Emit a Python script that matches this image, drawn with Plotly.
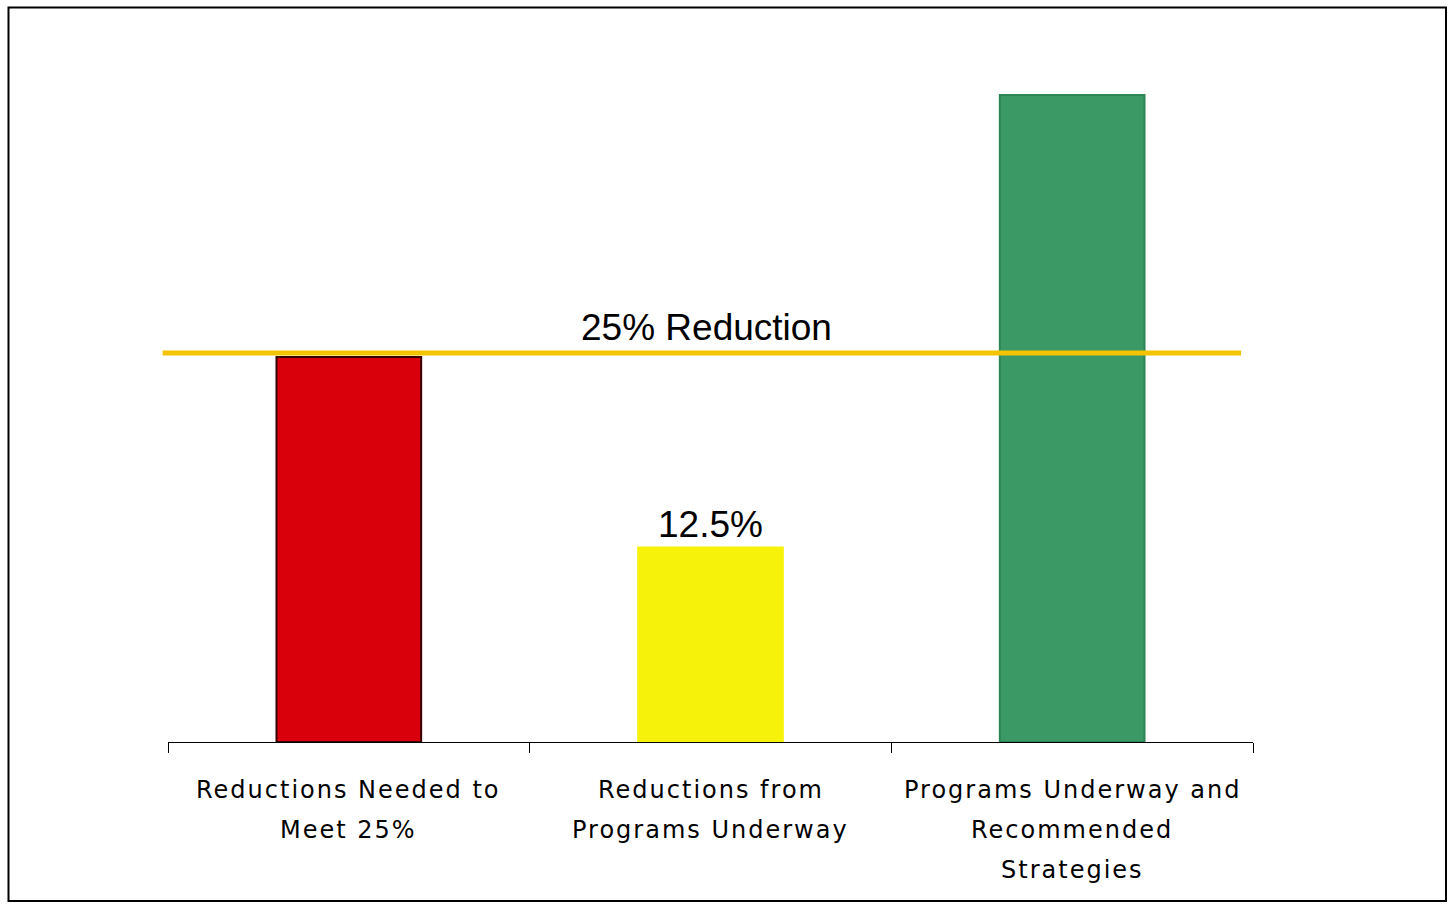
import plotly.graph_objects as go

categories = ["Reductions Needed to Meet 25%", "Reductions from Programs Underway",
              "Programs Underway and Recommended Strategies"]
label_lines = [["Reductions Needed to", "Meet 25%"],
               ["Reductions from", "Programs Underway"],
               ["Programs Underway and", "Recommended", "Strategies"]]
values = [24.75, 12.5, 41.6]
bar_text = ["", "12.5%", ""]
target_value = 25.0
target_label = "25% Reduction"
colors = ["#D9000C", "#F7F20A", "#3A9964"]
outline = ["#3A0000", "#F7F20A", "#2F8455"]

fig = go.Figure()
fig.add_trace(go.Bar(
    x=categories, y=values, width=0.4,
    marker=dict(color=colors, line=dict(color=outline, width=2)),
    text=bar_text, textposition="outside", cliponaxis=False,
    textfont=dict(family="Liberation Sans, Arial", size=37, color="#000000"),
))

fig.add_shape(type="line", xref="paper", yref="y", x0=-0.005, x1=0.989,
              y0=target_value, y1=target_value,
              line=dict(color="#F5C400", width=5), layer="above")
fig.add_annotation(x=categories[1], y=target_value, xref="x", yref="y",
                   text=target_label, showarrow=False, yshift=26, xshift=-4,
                   font=dict(family="Liberation Sans, Arial", size=37, color="#000000"))

for cat, lines in zip(categories, label_lines):
    for i, line in enumerate(lines):
        fig.add_annotation(x=cat, y=0, xref="x", yref="paper",
                           text='<span style="letter-spacing:2px">' + line + '</span>',
                           showarrow=False, yanchor="middle", yshift=-48 - 40 * i,
                           font=dict(family="DejaVu Sans, Verdana", size=24, color="#000000"))

# outer border
fig.add_shape(type="rect", xref="paper", yref="paper",
              x0=(8.5 - 168) / 1085, x1=(1446 - 168) / 1085,
              y0=(742 - 901) / 700, y1=(742 - 7.5) / 700,
              line=dict(color="#000000", width=2), fillcolor="rgba(0,0,0,0)")

fig.update_layout(
    width=1448, height=904,
    margin=dict(l=168, r=195, t=42, b=162),
    paper_bgcolor="#FFFFFF", plot_bgcolor="#FFFFFF",
    showlegend=False, bargap=0.6,
    xaxis=dict(showticklabels=False, ticks="outside", tickson="boundaries",
               ticklen=10, tickcolor="#000000", showline=True, linecolor="#000000",
               linewidth=1, showgrid=False, zeroline=False, range=[-0.5, 2.5]),
    yaxis=dict(range=[0, 45], visible=False, showgrid=False, zeroline=False),
)

fig.write_html("out.html")
